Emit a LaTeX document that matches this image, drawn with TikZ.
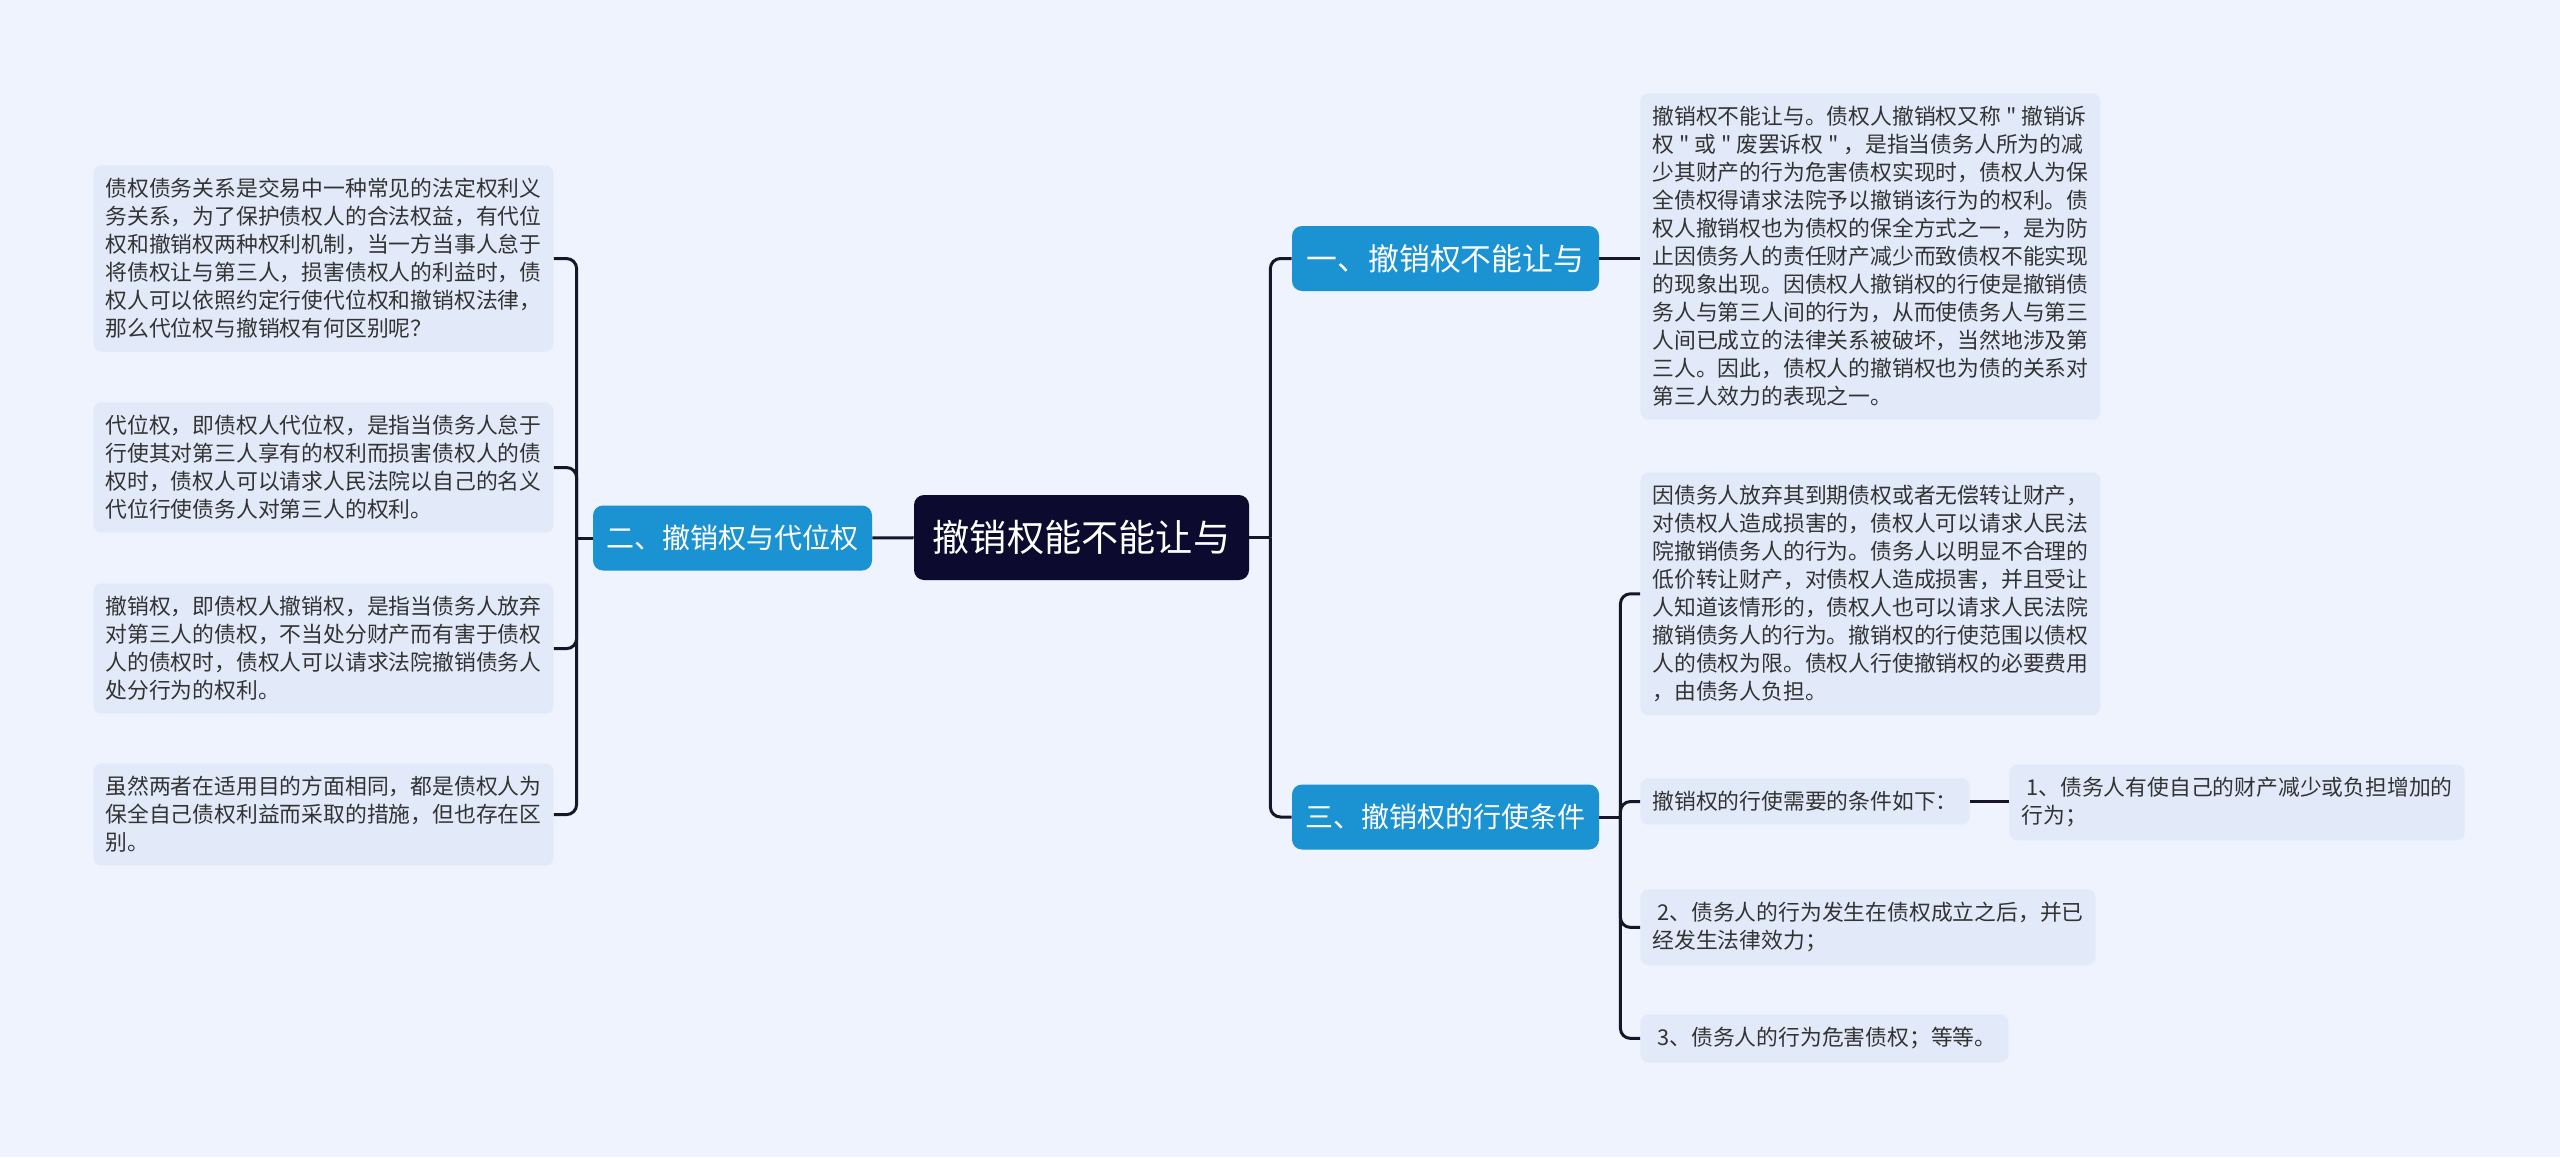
\documentclass[tikz,border=0pt]{standalone}
\usepackage{fontspec}
\newfontfamily\cjk{Noto Sans CJK SC}
\definecolor{bgc}{HTML}{EEF3FD}
\definecolor{leafc}{HTML}{E2EAFA}
\definecolor{txtc}{HTML}{333333}
\definecolor{bluec}{HTML}{1B93D2}
\definecolor{navyc}{HTML}{0C0A2E}
\definecolor{linec}{HTML}{16152A}
\tikzset{
  leaf/.style={fill=leafc, rounded corners=4pt, text=txtc, align=left, anchor=north west,
    inner xsep=6pt, inner ysep=6.5pt, font=\cjk\fontsize{10.9pt}{14pt}\selectfont},
  branch/.style={fill=bluec, rounded corners=5pt, text=white, minimum width=153.5pt,
    minimum height=32.5pt, inner sep=0pt, font=\cjk\fontsize{15.4pt}{18pt}\selectfont},
  root/.style={fill=navyc, rounded corners=5pt, text=white, minimum width=167.5pt,
    minimum height=42.5pt, inner sep=0pt, font=\cjk\fontsize{18.6pt}{22pt}\selectfont},
  conn/.style={draw=linec, line width=1.5pt, rounded corners=5pt}
}
\begin{document}
\begin{tikzpicture}[x=0.5pt, y=-0.5pt]
% fundo
\fill[bgc] (0,0) rectangle (2560,1157);
\useasboundingbox (0,0) rectangle (2560,1157);

% centro e ramos
\node[root] (c) at (1081.5,537.5) {撤销权能不能让与};
\node[branch] (b1) at (1445.5,258.5) {一、撤销权不能让与};
\node[branch, minimum width=139.5pt, font=\cjk\fontsize{14pt}{17pt}\selectfont] (b2) at (732.5,538) {二、撤销权与代位权};
\node[branch, font=\cjk\fontsize{14pt}{17pt}\selectfont] (b3) at (1445.5,817) {三、撤销权的行使条件};

% folhas da esquerda
\node[leaf] (l1) at (93,165) {债权债务关系是交易中一种常见的法定权利义\\
务关系，为了保护债权人的合法权益，有代位\\
权和撤销权两种权利机制，当一方当事人怠于\\
将债权让与第三人，损害债权人的利益时，债\\
权人可以依照约定行使代位权和撤销权法律，\\
那么代位权与撤销权有何区别呢？};
\node[leaf] (l2) at (93,402) {代位权，即债权人代位权，是指当债务人怠于\\
行使其对第三人享有的权利而损害债权人的债\\
权时，债权人可以请求人民法院以自己的名义\\
代位行使债务人对第三人的权利。};
\node[leaf] (l3) at (93,583) {撤销权，即债权人撤销权，是指当债务人放弃\\
对第三人的债权，不当处分财产而有害于债权\\
人的债权时，债权人可以请求法院撤销债务人\\
处分行为的权利。};
\node[leaf] (l4) at (93,763) {虽然两者在适用目的方面相同，都是债权人为\\
保全自己债权利益而采取的措施，但也存在区\\
别。};

% folhas da direita
\node[leaf] (r1) at (1640,93) {撤销权不能让与。债权人撤销权又称 " 撤销诉\\
权 " 或 " 废罢诉权 " ，是指当债务人所为的减\\
少其财产的行为危害债权实现时，债权人为保\\
全债权得请求法院予以撤销该行为的权利。债\\
权人撤销权也为债权的保全方式之一，是为防\\
止因债务人的责任财产减少而致债权不能实现\\
的现象出现。因债权人撤销权的行使是撤销债\\
务人与第三人间的行为，从而使债务人与第三\\
人间已成立的法律关系被破坏，当然地涉及第\\
三人。因此，债权人的撤销权也为债的关系对\\
第三人效力的表现之一。};
\node[leaf] (r3a) at (1640,472) {因债务人放弃其到期债权或者无偿转让财产，\\
对债权人造成损害的，债权人可以请求人民法\\
院撤销债务人的行为。债务人以明显不合理的\\
低价转让财产，对债权人造成损害，并且受让\\
人知道该情形的，债权人也可以请求人民法院\\
撤销债务人的行为。撤销权的行使范围以债权\\
人的债权为限。债权人行使撤销权的必要费用\\
，由债务人负担。};
\node[leaf] (r3b) at (1640,778) {撤销权的行使需要的条件如下：};
\node[leaf] (c1) at (2009,764) {\ 1、债务人有使自己的财产减少或负担增加的\\
行为；};
\node[leaf] (r3c) at (1640,889) {\ 2、债务人的行为发生在债权成立之后，并已\\
经发生法律效力；};
\node[leaf] (r3d) at (1640,1014) {\ 3、债务人的行为危害债权；等等。};

% ligacoes
\coordinate (jl) at ([xshift=-8pt]b2.west);
\coordinate (jr) at ([xshift=10.5pt]c.east);
\coordinate (j3) at ([xshift=10.5pt]b3.east);
\draw[conn] (c) -- (b2);
\draw[conn] (b2.west) -- (jl);
\foreach \n in {l1,l2,l3,l4} {
    \draw[conn] (jl) |- (\n.east);
}
\draw[conn] (c.east) -- (jr);
\draw[conn] (jr) |- (b1.west);
\draw[conn] (jr) |- (b3.west);
\draw[conn] (b1.east) -- (b1.east -| r1.west);
\draw[conn] (b3.east) -- (j3);
\foreach \n in {r3a,r3b,r3c,r3d} {
    \draw[conn] (j3) |- (\n.west);
}
\draw[conn] (r3b.east) -- (r3b.east -| c1.west);
\end{tikzpicture}
\end{document}
